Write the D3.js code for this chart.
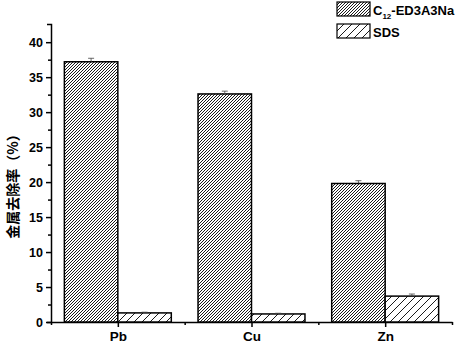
<!DOCTYPE html>
<html>
<head>
<meta charset="utf-8">
<script src="https://d3js.org/d3.v7.min.js"></script>
<style>
    body { margin: 0; background: #fff; }
    text { font-family: "Liberation Sans", Arial, sans-serif; font-weight: bold; }
    .axis path, .axis line { stroke: #000; stroke-width: 1.5px; }
    .axis text { font-size: 12.5px; fill: #000; }
</style>
</head>
<body>
<script>
var width = 472, height = 345;

// data
var metals = ["Pb", "Cu", "Zn"];
var c12Values = [37.2, 32.6, 19.8];
var c12Errors = [0.5, 0.4, 0.4];
var sdsValues = [1.3, 1.15, 3.7];
var sdsErrors = [0.1, 0.1, 0.3];
var seriesNames = ["C12-ED3A3Na", "SDS"];
var yTicks = [0, 5, 10, 15, 20, 25, 30, 35, 40];

var svg = d3.select("body").append("svg")
    .attr("width", width)
    .attr("height", height);

var defs = svg.append("defs");
// dense hatch for C12
var p1 = defs.append("pattern").attr("id", "dense")
    .attr("patternUnits", "userSpaceOnUse")
    .attr("width", 3).attr("height", 3);
p1.append("rect").attr("width", 3).attr("height", 3).attr("fill", "#fff");
p1.append("path").attr("d", "M-1,1 l2,-2 M0,3 l3,-3 M2,4 l2,-2")
    .attr("stroke", "#000").attr("stroke-width", 0.9);
// sparse hatch for SDS
var p2 = defs.append("pattern").attr("id", "sparse")
    .attr("patternUnits", "userSpaceOnUse")
    .attr("width", 8).attr("height", 8);
p2.append("rect").attr("width", 8).attr("height", 8).attr("fill", "#fff");
p2.append("path").attr("d", "M-2,2 l4,-4 M0,8 l8,-8 M6,10 l4,-4")
    .attr("stroke", "#000").attr("stroke-width", 0.9);

var x = d3.scaleLinear().domain([0.5, 3.5]).range([51, 452]);
var y = d3.scaleLinear().domain([0, 42.6]).range([322, 24]);
var barW = x(1.4) - x(1);

// axes
var xAxis = svg.append("g").attr("class", "axis")
    .attr("transform", "translate(0," + y(0) + ")")
    .call(d3.axisBottom(x).tickValues([1, 2, 3]).tickSize(5).tickSizeOuter(0)
        .tickFormat(function(d) { return metals[d - 1]; }));
xAxis.selectAll("text").attr("y", 9).attr("dy", "0.71em").style("font-size", "13.5px");
svg.append("g").attr("class", "axis")
    .attr("transform", "translate(0," + y(0) + ")")
    .call(d3.axisBottom(x).tickValues([0.5, 1.5, 2.5, 3.5]).tickSize(3).tickSizeOuter(0).tickFormat(""))
    .select(".domain").remove();

svg.append("g").attr("class", "axis")
    .attr("transform", "translate(" + x(0.5) + ",0)")
    .call(d3.axisLeft(y).tickValues(yTicks).tickSize(5).tickSizeOuter(4).tickPadding(3));
svg.append("g").attr("class", "axis")
    .attr("transform", "translate(" + x(0.5) + ",0)")
    .call(d3.axisLeft(y).tickValues(d3.range(2.5, 42, 5)).tickSize(3).tickFormat(""))
    .select(".domain").remove();

// bars
function drawSeries(vals, errs, offset, fill) {
    var g = svg.append("g");
    g.selectAll("rect").data(vals).enter().append("rect")
        .attr("x", function(d, i) { return x(i + 1) + offset; })
        .attr("y", function(d) { return y(d); })
        .attr("width", barW)
        .attr("height", function(d) { return y(0) - y(d); })
        .attr("fill", fill)
        .attr("stroke", "#000")
        .attr("stroke-width", 1.5);
    g.selectAll("path.err").data(vals).enter().append("path")
        .attr("class", "err")
        .attr("d", function(d, i) {
            var cx = x(i + 1) + offset + barW / 2;
            var top = y(d + errs[i]);
            return "M" + cx + "," + y(d) + "V" + top + "M" + (cx - 3) + "," + top + "H" + (cx + 3);
        })
        .attr("stroke", "#444").attr("stroke-width", 0.8).attr("fill", "none");
}
drawSeries(c12Values, c12Errors, -barW, "url(#dense)");
drawSeries(sdsValues, sdsErrors, 0, "url(#sparse)");

// legend
var leg = svg.append("g");
[["url(#dense)", 2], ["url(#sparse)", 24]].forEach(function(l) {
    leg.append("rect").attr("x", 337).attr("y", l[1])
        .attr("width", 33).attr("height", 14)
        .attr("fill", l[0]).attr("stroke", "#000").attr("stroke-width", 1.2);
});
var t1 = leg.append("text").attr("x", 373).attr("y", 15).style("font-size", "13px");
t1.append("tspan").text("C");
t1.append("tspan").attr("dy", 4).style("font-size", "8px").text("12");
t1.append("tspan").attr("dy", -4).text("-ED3A3Na");
leg.append("text").attr("x", 373).attr("y", 37).style("font-size", "13px").text(seriesNames[1]);

// y label
svg.append("text")
    .attr("transform", "translate(18,183) rotate(-90)")
    .attr("text-anchor", "middle")
    .style("font-family", "'Noto Sans CJK SC', sans-serif")
    .style("font-size", "14px")
    .text("金属去除率（%）");
</script>
</body>
</html>
